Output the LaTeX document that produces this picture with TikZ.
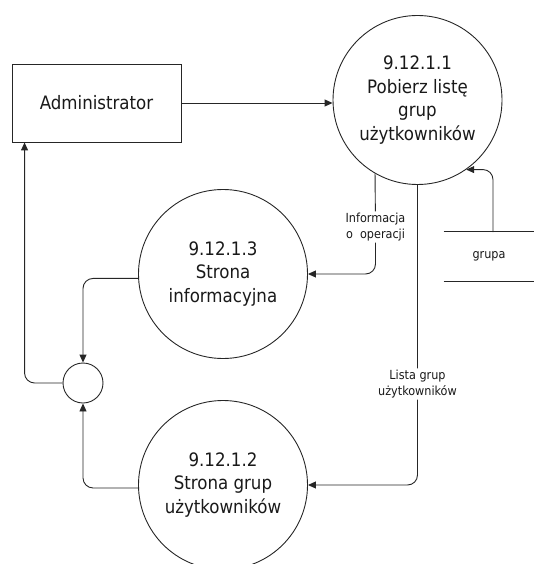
\documentclass[tikz,border=0pt]{standalone}
\usepackage{fontspec}
\setmainfont{DejaVu Sans Condensed}
\usetikzlibrary{arrows.meta}
\begin{document}
\begin{tikzpicture}[x=1pt,y=-1pt,
  line width=0.9pt, draw=black!85,
  every node/.style={text=black!90},
  proc/.style={draw, circle, minimum size=169pt, inner sep=0pt, align=center, font=\fontsize{18.5}{23.5}\selectfont},
  ent/.style={draw, rectangle, minimum width=169pt, minimum height=78pt, font=\fontsize{18.5}{22}\selectfont},
  flowlabel/.style={fill=white, inner sep=1.5pt, align=center, font=\fontsize{12.5}{16}\selectfont},
  flow/.style={draw, rounded corners=10pt, -{Triangle[length=8pt,width=7pt]}},
]
\useasboundingbox (0,0) rectangle (534,564);
\node[ent] (admin) at (96.5,103) {Administrator};
\node[proc] (c1) at (417.5,100) {9.12.1.1\\Pobierz listę\\grup\\użytkowników};
\node[proc] (c3) at (223,274) {9.12.1.3\\Strona\\informacyjna};
\node[proc] (c2) at (223,485) {9.12.1.2\\Strona grup\\użytkowników};
\node[draw, circle, minimum size=40pt, inner sep=0pt] (sm) at (83,383) {};
\node[minimum width=90pt, minimum height=49pt, inner sep=0pt, font=\fontsize{12.5}{14}\selectfont] (store) at (489,256.5) {grupa};
\draw (store.north west) -- (store.north east);
\draw (store.south west) -- (store.south east);
\coordinate (stout) at (493,232);
\coordinate (adin) at ([xshift=13pt]admin.south west);

\draw[flow] (admin.east) -- (c1.west |- admin.east);
\draw[flow] (c1.240) -- (375.5,227) node[flowlabel] {Informacja\\o\ \ operacji} |- (c3.east);
\draw[flow] (c1.270) -- (417.5,384) node[flowlabel] {Lista grup\\użytkowników} |- (c2.east);
\draw[flow] (stout) |- (c1.305);
\draw[flow] (c3.183) -| (sm.north);
\draw[flow] (c2.182) -| (sm.south);
\draw[flow] (sm.west) -| (adin);
\end{tikzpicture}
\end{document}
